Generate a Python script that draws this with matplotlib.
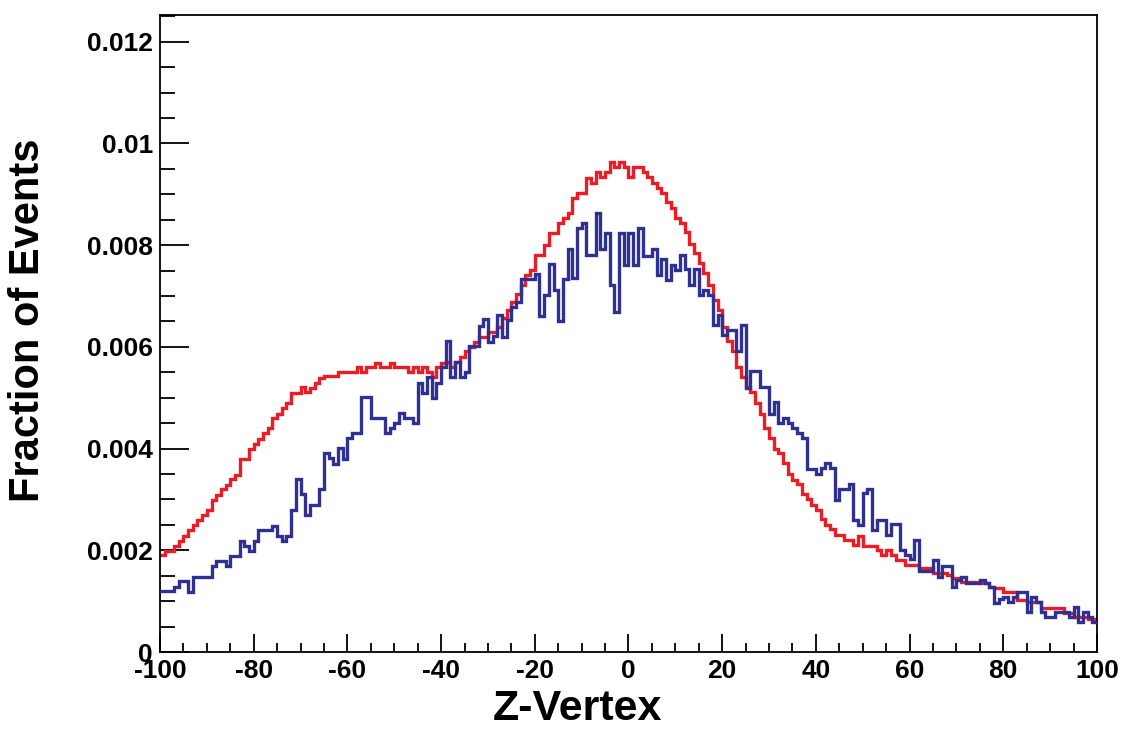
import numpy as np
import matplotlib
matplotlib.use("Agg")
import matplotlib.pyplot as plt
from matplotlib.ticker import MultipleLocator, FuncFormatter

plt.rcParams['font.family'] = ['Liberation Sans', 'DejaVu Sans']
plt.rcParams['font.weight'] = 'bold'
plt.rcParams['axes.unicode_minus'] = False

# histogram range: 200 bins of width 1 from -100 to 100
x_lo, x_hi, n_bins = -100, 100, 200

# fraction of events per bin, in units of 1e-3
red_vals = [
    1.91, 1.99, 1.99, 2.08, 2.18, 2.29, 2.39, 2.49, 2.59, 2.69,
    2.79, 2.99, 3.09, 3.20, 3.29, 3.40, 3.49, 3.80, 3.80, 3.99,
    4.10, 4.19, 4.30, 4.40, 4.60, 4.69, 4.79, 4.90, 5.10, 5.10,
    5.21, 5.12, 5.20, 5.30, 5.39, 5.43, 5.43, 5.43, 5.50, 5.50,
    5.50, 5.50, 5.60, 5.50, 5.60, 5.60, 5.69, 5.61, 5.61, 5.69,
    5.60, 5.60, 5.60, 5.50, 5.60, 5.50, 5.60, 5.50, 5.41, 5.61,
    5.69, 5.71, 5.60, 5.71, 5.81, 5.91, 6.00, 6.10, 6.20, 6.20,
    6.30, 6.30, 6.40, 6.56, 6.73, 6.89, 7.05, 7.22, 7.41, 7.51,
    7.81, 7.81, 8.00, 8.23, 8.23, 8.43, 8.53, 8.63, 8.92, 9.03,
    9.03, 9.33, 9.23, 9.43, 9.35, 9.43, 9.63, 9.53, 9.63, 9.53,
    9.34, 9.53, 9.53, 9.43, 9.34, 9.23, 9.13, 9.03, 8.84, 8.74,
    8.54, 8.44, 8.25, 8.02, 7.84, 7.64, 7.46, 7.22, 6.92, 6.73,
    6.40, 6.12, 5.91, 5.61, 5.41, 5.22, 5.12, 4.90, 4.69, 4.40,
    4.20, 3.99, 3.91, 3.71, 3.50, 3.38, 3.30, 3.10, 3.00, 2.89,
    2.79, 2.61, 2.50, 2.41, 2.30, 2.30, 2.20, 2.20, 2.10, 2.28,
    2.08, 2.08, 2.08, 2.01, 1.91, 2.01, 1.91, 1.81, 1.81, 1.71,
    1.71, 1.71, 1.65, 1.65, 1.65, 1.55, 1.55, 1.55, 1.51, 1.45,
    1.45, 1.38, 1.38, 1.38, 1.38, 1.35, 1.35, 1.28, 1.25, 1.25,
    1.19, 1.19, 1.19, 1.02, 1.02, 0.99, 0.99, 0.99, 0.86, 0.86,
    0.86, 0.86, 0.86, 0.76, 0.76, 0.68, 0.68, 0.68, 0.64, 0.64,
]

blue_vals = [
    1.20, 1.20, 1.20, 1.28, 1.40, 1.40, 1.19, 1.48, 1.48, 1.48,
    1.48, 1.69, 1.79, 1.79, 1.69, 1.89, 1.89, 2.19, 2.09, 1.99,
    2.19, 2.39, 2.39, 2.39, 2.48, 2.29, 2.19, 2.29, 2.79, 3.40,
    3.10, 2.69, 2.89, 2.89, 3.21, 3.91, 3.81, 3.70, 4.01, 3.80,
    4.20, 4.30, 4.30, 5.01, 5.01, 4.60, 4.60, 4.60, 4.30, 4.40,
    4.51, 4.71, 4.60, 4.60, 4.50, 5.30, 5.10, 5.41, 4.99, 5.30,
    5.61, 6.12, 5.41, 5.71, 5.41, 5.50, 6.02, 6.02, 6.41, 6.54,
    6.10, 6.21, 6.63, 6.20, 6.53, 6.79, 6.89, 7.33, 7.33, 7.33,
    7.43, 6.60, 7.02, 7.63, 7.12, 6.50, 7.33, 7.93, 7.35, 8.33,
    8.43, 7.81, 7.81, 8.64, 7.93, 8.23, 7.22, 6.69, 8.23, 7.61,
    8.23, 7.61, 8.33, 7.79, 7.79, 7.93, 7.41, 7.72, 7.32, 7.61,
    7.51, 7.81, 7.54, 7.22, 7.53, 7.02, 7.12, 7.02, 6.43, 6.63,
    6.23, 6.33, 6.33, 5.91, 6.43, 5.19, 5.53, 5.53, 5.22, 5.22,
    4.69, 4.91, 4.50, 4.61, 4.51, 4.41, 4.31, 4.20, 3.59, 3.59,
    3.50, 3.61, 3.71, 3.61, 2.99, 3.20, 3.20, 3.30, 2.60, 2.50,
    3.12, 3.20, 2.40, 2.60, 2.60, 2.30, 2.51, 2.51, 2.01, 1.91,
    1.82, 2.20, 1.59, 1.59, 1.59, 1.81, 1.48, 1.69, 1.69, 1.28,
    1.42, 1.48, 1.35, 1.35, 1.35, 1.42, 1.35, 1.28, 0.97, 1.05,
    1.09, 0.98, 1.09, 1.19, 1.19, 0.78, 1.09, 0.99, 0.79, 0.69,
    0.69, 0.79, 0.79, 0.79, 0.69, 0.89, 0.60, 0.78, 0.69, 0.60,
]

x_ticks = [-100, -80, -60, -40, -20, 0, 20, 40, 60, 80, 100]
y_ticks = [0, 0.002, 0.004, 0.006, 0.008, 0.01, 0.012]

edges = np.linspace(x_lo, x_hi, n_bins + 1)
red = np.array(red_vals) * 1e-3
blue = np.array(blue_vals) * 1e-3

fig = plt.figure(figsize=(11.21, 7.30), dpi=100)
ax = fig.add_axes([0.1427, 0.1068, 0.8359, 0.8727])

ax.stairs(red, edges, color='#ed1c24', lw=2.4, baseline=None, zorder=2)
ax.stairs(blue, edges, color='#2e3192', lw=2.4, baseline=None, zorder=3)

ax.set_xlim(x_lo, x_hi)
ax.set_ylim(0, 0.012527)

ax.set_xticks(x_ticks)
ax.set_yticks(y_ticks)
ax.xaxis.set_minor_locator(MultipleLocator(5))
ax.yaxis.set_minor_locator(MultipleLocator(0.0005))
ax.yaxis.set_major_formatter(FuncFormatter(lambda v, p: '%g' % round(v, 6)))
ax.xaxis.set_major_formatter(FuncFormatter(lambda v, p: '%d' % v))

ax.tick_params(which='both', direction='in', top=False, right=False, width=1.3,
               labelsize=19)
ax.tick_params(axis='y', which='major', length=21, pad=5)
ax.tick_params(axis='y', which='minor', length=10.5)
ax.tick_params(axis='x', which='major', length=13, pad=5)
ax.tick_params(axis='x', which='minor', length=6.5)
for lab in ax.get_xticklabels() + ax.get_yticklabels():
    lab.set_fontweight('bold')

for s in ax.spines.values():
    s.set_linewidth(1.3)

ax.set_xlabel('Z-Vertex', fontsize=31, fontweight='bold')
ax.set_ylabel('Fraction of Events', fontsize=30, fontweight='bold')
ax.xaxis.set_label_coords(0.445, -0.058)
ax.yaxis.set_label_coords(-0.12, 0.521)

fig.savefig('out.png', dpi=100)
